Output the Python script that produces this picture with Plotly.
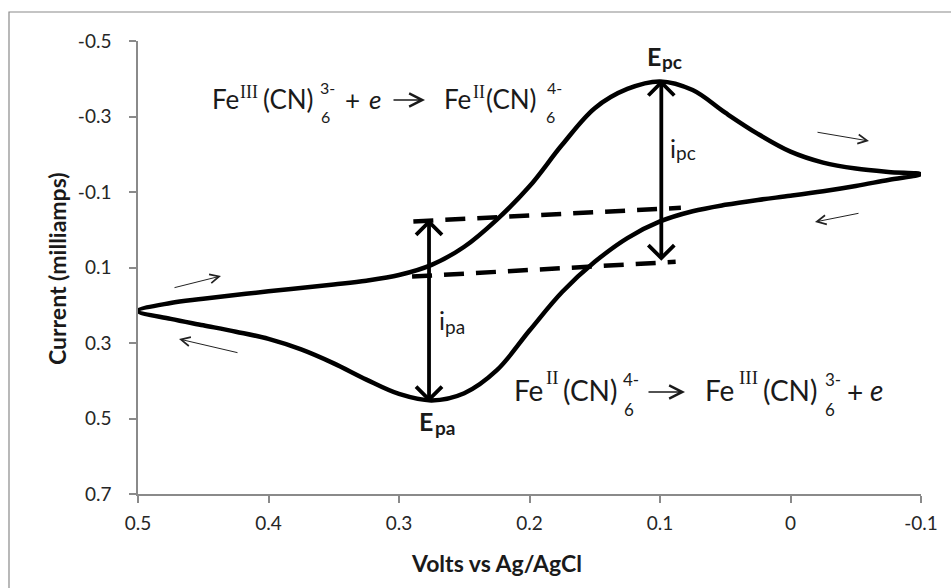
import plotly.graph_objects as go

# ---------------- data ----------------
# forward (cathodic) scan: 0.5 V -> -0.1 V
fwd_potential = [0.50, 0.475, 0.45, 0.40, 0.35, 0.325, 0.30, 0.275, 0.25, 0.225, 0.20, 0.175,
                 0.15, 0.125, 0.10, 0.075, 0.05, 0.025, 0.0, -0.025, -0.05, -0.075, -0.10]
fwd_current = [0.215, 0.194, 0.183, 0.163, 0.145, 0.135, 0.120, 0.093, 0.045, -0.027, -0.115, -0.225,
               -0.322, -0.373, -0.393, -0.370, -0.310, -0.254, -0.207, -0.178, -0.162, -0.153, -0.147]
# reverse (anodic) scan: -0.1 V -> 0.5 V
rev_potential = [-0.10, -0.075, -0.05, -0.025, 0.0, 0.025, 0.05, 0.075, 0.10, 0.125,
                 0.15, 0.175, 0.20, 0.225, 0.25, 0.275, 0.30, 0.325, 0.35, 0.375, 0.40,
                 0.425, 0.45, 0.475, 0.50]
rev_current = [-0.147, -0.132, -0.116, -0.102, -0.090, -0.079, -0.066, -0.049, -0.022, 0.022,
               0.085, 0.165, 0.267, 0.372, 0.433, 0.452, 0.435, 0.397, 0.354, 0.317, 0.289,
               0.270, 0.253, 0.236, 0.215]

# baseline extrapolations (dashed)
cath_base_x = [0.290, 0.088]
cath_base_y = [0.124, 0.085]
anod_base_x = [0.289, 0.084]
anod_base_y = [-0.022, -0.058]

# peak markers
Epc_x, Epc_y, ipc_base = 0.099, -0.390, 0.075
Epa_x, Epa_y, ipa_base = 0.277, 0.450, -0.021

x_ticks = [0.5, 0.4, 0.3, 0.2, 0.1, 0.0, -0.1]
x_tick_labels = ["0.5", "0.4", "0.3", "0.2", "0.1", "0", "-0.1"]
y_ticks = [-0.5, -0.3, -0.1, 0.1, 0.3, 0.5, 0.7]
y_tick_labels = ["-0.5", "-0.3", "-0.1", "0.1", "0.3", "0.5", "0.7"]
x_range = [0.5, -0.1]
y_range = [0.7, -0.5]

# ---------------- geometry ----------------
W, H = 951, 588
ML, MR, MT, MB = 138, 30, 41, 94
PW, PH = W - ML - MR, H - MT - MB
DXP = abs(x_range[1] - x_range[0]) / PW   # data units per pixel (x)
DYP = abs(y_range[1] - y_range[0]) / PH   # data units per pixel (y)


def px(x):
    return (x - ML) / PW


def py(y):
    return (H - MB - y) / PH


INK = "#1a1a1a"
FONT = "Lato"
SERIF = "Liberation Serif"

fig = go.Figure()

# CV loop
fig.add_trace(go.Scatter(
    x=fwd_potential + rev_potential[1:],
    y=fwd_current + rev_current[1:],
    mode="lines", line=dict(color="black", width=4.5, shape="spline", smoothing=1.0),
    hoverinfo="skip", showlegend=False))

# dashed baselines
for bx, by in [(cath_base_x, cath_base_y), (anod_base_x, anod_base_y)]:
    fig.add_trace(go.Scatter(x=bx, y=by, mode="lines",
                             line=dict(color="black", width=4.5, dash="20px,12px"),
                             hoverinfo="skip", showlegend=False))


def double_arrow(x0, y_top, y_bot, head=13):
    hx, hy = head * DXP, head * DYP
    xs = [x0, x0, None,
          x0 - hx, x0, x0 + hx, None,
          x0 - hx, x0, x0 + hx]
    ys = [y_top, y_bot, None,
          y_top + hy, y_top, y_top + hy, None,
          y_bot - hy, y_bot, y_bot - hy]
    fig.add_trace(go.Scatter(x=xs, y=ys, mode="lines",
                             line=dict(color="black", width=3.8),
                             hoverinfo="skip", showlegend=False))


double_arrow(Epc_x, Epc_y, ipc_base)
double_arrow(Epa_x, ipa_base, Epa_y)

annotations = []


def txt(s, left, cy, size, family=FONT, bold=False, italic=False, color=INK):
    if bold:
        s = "<b>" + s + "</b>"
    if italic:
        s = "<i>" + s + "</i>"
    annotations.append(dict(text=s, x=px(left), y=py(cy), xref="paper", yref="paper",
                            xanchor="left", yanchor="middle", showarrow=False,
                            font=dict(family=family, size=size, color=color)))


def arrow(tail, tip, width=1.0, size=1.8, color="#222"):
    annotations.append(dict(text="", x=px(tip[0]), y=py(tip[1]), xref="paper", yref="paper",
                            ax=tail[0] - tip[0], ay=tail[1] - tip[1],
                            showarrow=True, arrowhead=5, arrowwidth=width,
                            arrowsize=size, arrowcolor=color, standoff=0))


# top equation
TM, TY = 26, 99
txt("Fe", 210, TY, TM)
txt("III", 238, 92, 18, family=SERIF)
txt("(CN)", 261, TY, TM)
txt("3-", 318, 88, 16)
txt("6", 319, 117, 16)
txt("+", 343, 100, TM)
txt("e", 367, TY, TM, italic=True)
arrow((392, 100), (425, 100), width=1.6, size=1.6, color=INK)
txt("Fe", 442, TY, TM)
txt("II", 471, 92, 18, family=SERIF)
txt("(CN)", 484, TY, TM)
txt("4-", 545, 88, 16)
txt("6", 544, 117, 16)

# bottom equation
BM, BY = 28, 390
txt("Fe", 512, BY, BM)
txt("II", 544, 377, 19, family=SERIF)
txt("(CN)", 561, BY, BM)
txt("4-", 621, 379, 17)
txt("6", 622, 409, 17)
arrow((647, 392), (685, 392), width=1.6, size=1.6, color=INK)
txt("Fe", 703, BY, BM)
txt("III", 737, 377, 19, family=SERIF)
txt("(CN)", 761, BY, BM)
txt("3-", 823, 379, 17)
txt("6", 823, 409, 17)
txt("+", 845, 392, BM)
txt("e", 868, BY, BM, italic=True)

# peak labels
txt("E", 645, 56, 25, bold=True)
txt("pc", 660, 61.5, 19, bold=True)
txt("i", 668, 148, 25)
txt("pc", 674, 152.5, 19)
txt("i", 437, 320, 25)
txt("pa", 443, 326.5, 19)
txt("E", 417, 421, 25, bold=True)
txt("pa", 433, 427, 19, bold=True)

# scan direction arrows
arrow((173, 288), (221, 276))
arrow((239, 353), (179, 339))
arrow((816, 132), (869, 141))
arrow((860, 213), (815, 222))

# axis titles
annotations.append(dict(text="<b>Volts vs Ag/AgCl</b>", x=px(496), y=py(563), xref="paper", yref="paper",
                        xanchor="center", yanchor="middle", showarrow=False,
                        font=dict(family=FONT, size=23, color=INK)))
annotations.append(dict(text="<b>Current (milliamps)</b>", x=px(57), y=py(269), xref="paper", yref="paper",
                        xanchor="center", yanchor="middle", showarrow=False, textangle=-90,
                        font=dict(family=FONT, size=23, color=INK)))

axis_common = dict(showline=True, linecolor="#8a8a8a", linewidth=1.5, ticks="outside",
                   ticklen=7, tickwidth=1.5, tickcolor="#8a8a8a", showgrid=False,
                   zeroline=False, tickfont=dict(family=FONT, size=19, color="#262626"))

fig.update_layout(
    width=W, height=H,
    margin=dict(l=ML, r=MR, t=MT, b=MB, pad=0),
    paper_bgcolor="white", plot_bgcolor="white",
    xaxis=dict(range=x_range, tickmode="array", tickvals=x_ticks, ticktext=x_tick_labels,
               ticklabelstandoff=4, **axis_common),
    yaxis=dict(range=y_range, tickmode="array", tickvals=y_ticks, ticktext=y_tick_labels,
               ticklabelstandoff=14, **axis_common),
    annotations=annotations,
    shapes=[dict(type="rect", xref="paper", yref="paper",
                 x0=px(9), x1=px(1000), y0=py(700), y1=py(12),
                 line=dict(color="#8a8a8a", width=1.2), layer="below")],
    showlegend=False,
)

fig.write_html("out.html")
